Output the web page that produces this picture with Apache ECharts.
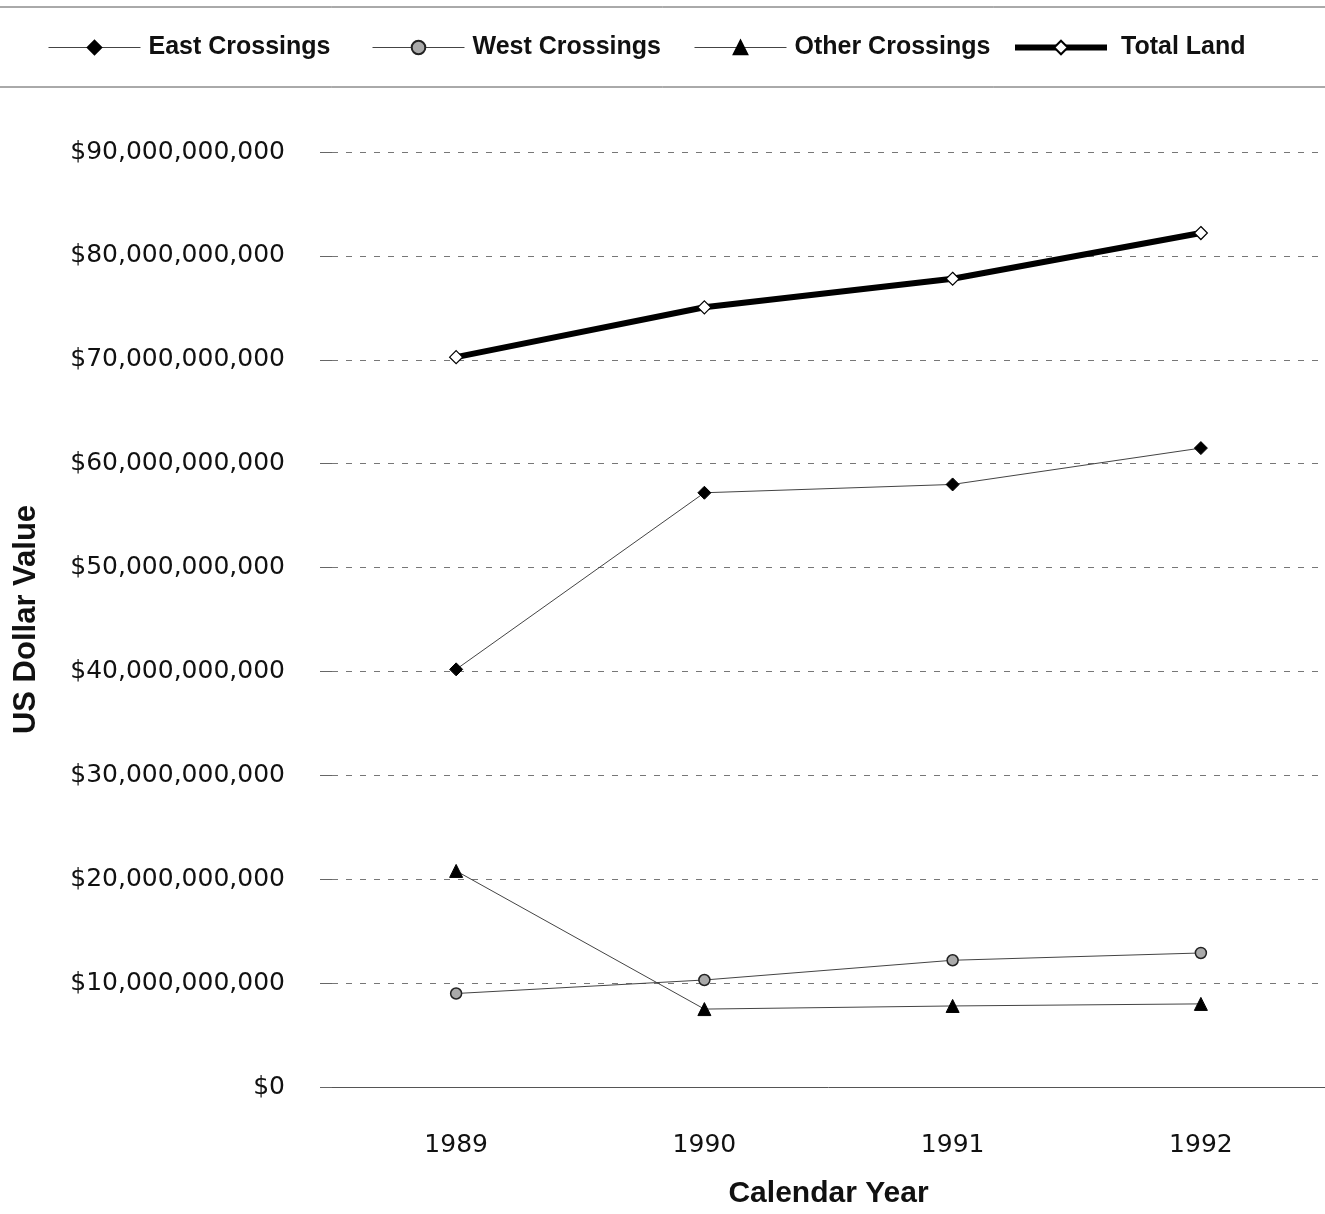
<!DOCTYPE html>
<html>
<head>
<meta charset="utf-8">
<script src="https://cdn.jsdelivr.net/npm/echarts@6/dist/echarts.min.js"></script>
<style>
  html, body { margin: 0; padding: 0; background: #fff; }
  #chart { width: 1325px; height: 1214px; }
</style>
</head>
<body>
<div id="chart"></div>
<script>
// Calendar years on the category axis
const years = ['1989', '1990', '1991', '1992'];

// Trade value by crossing group, US dollars
const eastCrossings  = [40.2e9, 57.2e9, 58.0e9, 61.5e9];
const westCrossings  = [9.0e9, 10.3e9, 12.2e9, 12.9e9];
const otherCrossings = [20.8e9, 7.5e9, 7.8e9, 8.0e9];
const totalLand      = [70.25e9, 75.05e9, 77.8e9, 82.2e9];

// Series names, in legend order
const seriesNames = ['East Crossings', 'West Crossings', 'Other Crossings', 'Total Land'];

// Value axis ticks
const yMin = 0;
const yMax = 90e9;
const yStep = 10e9;

function dollars(v) {
  return '$' + Math.round(v).toString().replace(/\B(?=(\d{3})+(?!\d))/g, ',');
}

const chart = echarts.init(document.getElementById('chart'), null, { renderer: 'canvas' });

const thin = { color: '#444', width: 1 };

// One legend block per series, laid out in equal-width slots
const legendLeft = [43, 367, 689, 1007];
const legendTextPad = [3, 3, 3, 9];
const legendLine = [
  { width: 1, color: '#444' },
  { width: 1, color: '#444' },
  { width: 1, color: '#444' },
  { width: 6, color: '#000' }
];
const legends = seriesNames.map((name, i) => ({
  top: 30,
  left: legendLeft[i],
  itemWidth: 92,
  itemHeight: 17,
  textStyle: {
    fontFamily: 'Liberation Sans, Arial, sans-serif',
    fontWeight: 'bold',
    fontSize: 25,
    color: '#111',
    padding: [0, 0, 0, legendTextPad[i]]
  },
  data: [{ name: name, lineStyle: legendLine[i] }]
}));

chart.setOption({
  animation: false,
  backgroundColor: '#ffffff',
  legend: legends,
  graphic: [
    { type: 'line', shape: { x1: 0, y1: 7, x2: 1325, y2: 7 }, style: { stroke: '#555', lineWidth: 1 } },
    { type: 'line', shape: { x1: 0, y1: 87, x2: 1325, y2: 87 }, style: { stroke: '#555', lineWidth: 1 } }
  ],
  grid: { left: 332, top: 152, width: 996, height: 937 },
  xAxis: {
    type: 'category',
    data: years,
    boundaryGap: true,
    axisLine: { show: true, lineStyle: { color: '#555', width: 1 } },
    axisTick: { show: false },
    axisLabel: {
      margin: 46,
      fontFamily: 'DejaVu Sans, sans-serif',
      fontSize: 25,
      color: '#111'
    },
    name: 'Calendar Year',
    nameLocation: 'middle',
    nameGap: 92,
    nameTextStyle: {
      fontFamily: 'Liberation Sans, Arial, sans-serif',
      fontWeight: 'bold',
      fontSize: 30,
      color: '#111'
    }
  },
  yAxis: {
    type: 'value',
    min: yMin,
    max: yMax,
    interval: yStep,
    axisLine: { show: false },
    axisTick: { show: true, length: 12, lineStyle: { color: '#666', width: 1 } },
    splitLine: { show: true, lineStyle: { color: '#777', width: 1, type: [6, 8] } },
    axisLabel: {
      margin: 47,
      formatter: dollars,
      fontFamily: 'DejaVu Sans, sans-serif',
      fontSize: 25,
      color: '#111'
    },
    name: 'US Dollar Value',
    nameLocation: 'middle',
    nameGap: 290,
    nameTextStyle: {
      fontFamily: 'Liberation Sans, Arial, sans-serif',
      fontWeight: 'bold',
      fontSize: 31,
      color: '#111'
    }
  },
  series: [
    {
      name: seriesNames[0],
      type: 'line',
      data: eastCrossings,
      symbol: 'diamond',
      symbolSize: 13,
      lineStyle: thin,
      itemStyle: { color: '#000', borderColor: '#000', borderWidth: 1 },
      z: 3
    },
    {
      name: seriesNames[1],
      type: 'line',
      data: westCrossings,
      symbol: 'circle',
      symbolSize: 11,
      lineStyle: thin,
      itemStyle: { color: '#aaa', borderColor: '#222', borderWidth: 1.5 },
      z: 3
    },
    {
      name: seriesNames[2],
      type: 'line',
      data: otherCrossings,
      symbol: 'triangle',
      symbolSize: 13,
      lineStyle: thin,
      itemStyle: { color: '#000', borderColor: '#000', borderWidth: 1 },
      z: 3
    },
    {
      name: seriesNames[3],
      type: 'line',
      data: totalLand,
      symbol: 'diamond',
      symbolSize: 13,
      lineStyle: { color: '#000', width: 6 },
      itemStyle: { color: '#fff', borderColor: '#000', borderWidth: 1.2 },
      z: 4
    }
  ]
});
</script>
</body>
</html>
